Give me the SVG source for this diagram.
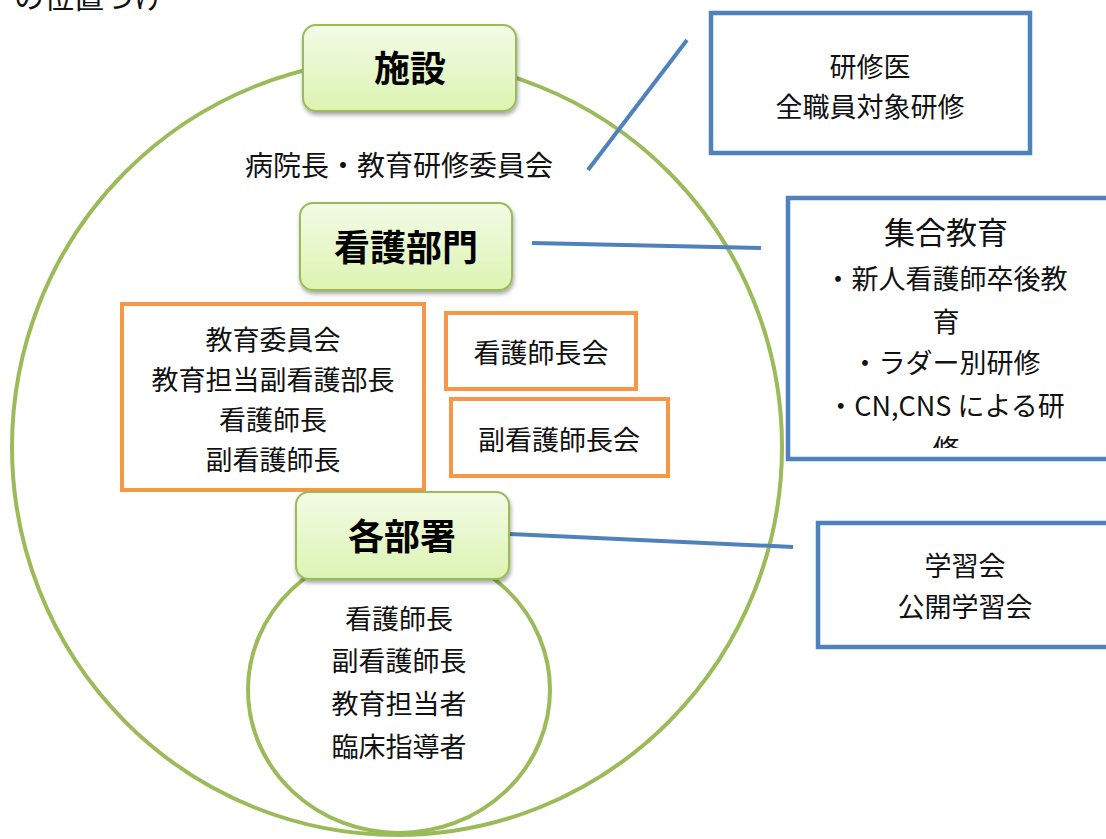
<svg xmlns="http://www.w3.org/2000/svg" width="1106" height="839" viewBox="0 0 1106 839">
  <style>
    text { font-family: "Noto Sans CJK JP", "Noto Sans", sans-serif; fill: #111; text-anchor: middle; }
    .t { font-size: 27px; }
    .big { font-size: 31px; }
    .head { font-size: 36px; font-weight: bold; fill: #000; }
    .ring { fill: none; stroke: #9BBB59; stroke-width: 4; }
    .gbox { fill: url(#gg); stroke: #9BBB59; stroke-width: 2; filter: url(#sh); }
    .obox { fill: #fff; stroke: #F79646; stroke-width: 4; }
    .bbox { fill: #fff; stroke: #4F81BD; stroke-width: 4.5; }
    .conn { stroke: #4F81BD; stroke-width: 4; fill: none; }
  </style>
  <defs>
    <linearGradient id="gg" x1="0" y1="0" x2="0" y2="1">
      <stop offset="0" stop-color="#F3FBE6"/>
      <stop offset="1" stop-color="#DCF4B2"/>
    </linearGradient>
    <filter id="sh" x="-10%" y="-10%" width="125%" height="135%">
      <feGaussianBlur in="SourceAlpha" stdDeviation="2"/>
      <feOffset dx="1" dy="3" result="b"/>
      <feComponentTransfer><feFuncA type="linear" slope="0.35"/></feComponentTransfer>
      <feMerge><feMergeNode/><feMergeNode in="SourceGraphic"/></feMerge>
    </filter>
    <clipPath id="clipB"><rect x="790" y="200" width="320" height="248"/></clipPath>
  </defs>
  <rect width="1106" height="839" fill="#fff"/>

  <text x="14" y="8" style="font-size:30px; text-anchor:start">の位置づけ</text>

  <g id="rings">
    <ellipse class="ring" cx="397" cy="447" rx="385" ry="388"/>
    <ellipse class="ring" cx="399" cy="690" rx="151" ry="143"/>
  </g>

  <g id="connectors">
    <line class="conn" x1="588" y1="170" x2="687" y2="40"/>
    <line class="conn" x1="532" y1="243" x2="761" y2="248"/>
    <line class="conn" x1="510" y1="534" x2="793" y2="547"/>
  </g>

  <g id="node-shisetsu">
    <rect class="gbox" x="303" y="25" width="213" height="86" rx="13"/>
    <text class="head" x="410" y="82">施設</text>
  </g>

  <g id="node-byouincho">
    <text class="t" x="399" y="176" style="font-size:28px">病院長・教育研修委員会</text>
  </g>

  <g id="node-kango">
    <rect class="gbox" x="300" y="203" width="212" height="87" rx="13"/>
    <text class="head" x="406" y="261">看護部門</text>
  </g>

  <g id="node-kyouiku-iinkai">
    <rect class="obox" x="122" y="304" width="302" height="186"/>
    <text class="t" x="273" y="350">教育委員会</text>
    <text class="t" x="273" y="390">教育担当副看護部長</text>
    <text class="t" x="273" y="430">看護師長</text>
    <text class="t" x="273" y="470">副看護師長</text>
  </g>

  <g id="node-shichokai">
    <rect class="obox" x="446" y="313" width="190" height="76"/>
    <text class="t" x="541" y="363">看護師長会</text>
  </g>

  <g id="node-fukushichokai">
    <rect class="obox" x="451" y="399" width="217" height="77"/>
    <text class="t" x="559" y="450">副看護師長会</text>
  </g>

  <g id="node-kakubusho">
    <rect class="gbox" x="296" y="492" width="213" height="87" rx="13"/>
    <text class="head" x="402" y="550">各部署</text>
    <text class="t" x="399" y="629">看護師長</text>
    <text class="t" x="399" y="671">副看護師長</text>
    <text class="t" x="399" y="714">教育担当者</text>
    <text class="t" x="399" y="757">臨床指導者</text>
  </g>

  <g id="node-kenshui">
    <rect class="bbox" x="711" y="13" width="319" height="140"/>
    <text class="t" x="870" y="77">研修医</text>
    <text class="t" x="870" y="117">全職員対象研修</text>
  </g>

  <g id="node-shugo">
    <rect class="bbox" x="788" y="198" width="330" height="261"/>
    <g clip-path="url(#clipB)">
      <text class="big" x="946" y="244">集合教育</text>
      <text class="t" x="946" y="289">・新人看護師卒後教</text>
      <text class="t" x="946" y="332">育</text>
      <text class="t" x="946" y="373">・ラダー別研修</text>
      <text class="t" x="946" y="416">・CN,CNS による研</text>
      <text class="t" x="946" y="459">修</text>
    </g>
  </g>

  <g id="node-gakushu">
    <rect class="bbox" x="818" y="523" width="300" height="124"/>
    <text class="t" x="965" y="576">学習会</text>
    <text class="t" x="965" y="617">公開学習会</text>
  </g>
</svg>
